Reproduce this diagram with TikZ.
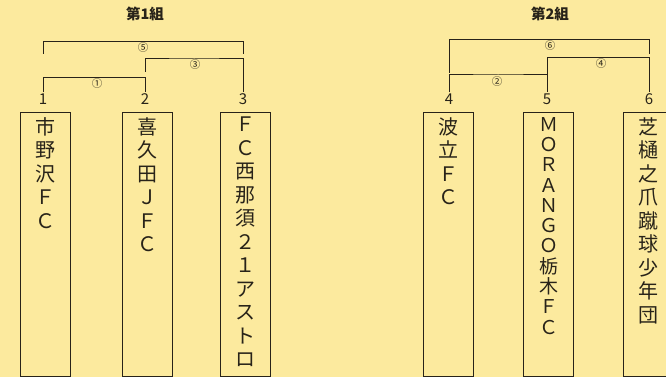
\documentclass[tikz,border=0pt]{standalone}
\usepackage{fontspec}
\setmainfont{Noto Sans CJK JP}
\definecolor{paper}{RGB}{252,234,158}
\definecolor{ink}{RGB}{40,35,25}

\begin{document}
\begin{tikzpicture}[x=1pt, y=-1pt,
            teambox/.style={rectangle, draw=ink, line width=1pt, minimum width=50pt, minimum height=264pt, anchor=north, inner sep=0pt},
            teamname/.style={anchor=north, align=center, text=ink, inner sep=0pt, yshift=-5pt, font=\fontsize{20}{23.5}\selectfont},
            seed/.style={text=ink, inner sep=1pt, font=\fontsize{15}{15}\selectfont},
            match/.style={text=ink, inner sep=0pt, font=\fontsize{10.5}{10.5}\selectfont},
            title/.style={text=ink, inner sep=0pt, font=\bfseries\fontsize{14.5}{14.5}\selectfont},
            bracket/.style={draw=ink, line width=1pt}
        ]

        % Hintergrund
        \fill[paper] (0,0) rectangle (666,377);
        \useasboundingbox (0,0) rectangle (666,377);

        % Gruppe 1
        \node[title] (title1) at (145,14) {第1組};
        \node[seed] (n1) at (43,99) {1};
        \node[seed] (n2) at (145,99) {2};
        \node[seed] (n3) at (243,99) {3};

        \node[teambox] (b1) at (45.5,112) {};
        \node[teambox] (b2) at (147,112) {};
        \node[teambox] (b3) at (245.5,112) {};
        \node[teamname] (t1) at (b1.north) {市\\野\\沢\\Ｆ\\Ｃ};
        \node[teamname] (t2) at (b2.north) {喜\\久\\田\\Ｊ\\Ｆ\\Ｃ};
        \node[teamname] (t3) at (b3.north) {Ｆ\\Ｃ\\西\\那\\須\\２\\１\\ア\\ス\\ト\\ロ};

        \coordinate (top1) at (94,77.7);
        \coordinate (top3) at (194,59);
        \coordinate (top5) at (143,41.7);
        \coordinate (w2) at (145,72);
        \coordinate (f1) at (43,54);
        \coordinate (f3) at (243,54);

        \draw[bracket] (n1.north) |- (top1) -| (n2.north);
        \draw[bracket] (w2) |- (top3) -| (n3.north);
        \draw[bracket] (f1) |- (top5) -| (f3);

        \node[match] (g1) at (97,83.5) {①};
        \node[match] (g3) at (195,64.5) {③};
        \node[match] (g5) at (143,47.5) {⑤};

        % Gruppe 2
        \node[title] (title2) at (550,14) {第2組};
        \node[seed] (n4) at (449,99) {4};
        \node[seed] (n5) at (547,99) {5};
        \node[seed] (n6) at (649,99) {6};

        \node[teambox] (b4) at (448.5,112) {};
        \node[teambox] (b5) at (548.5,112) {};
        \node[teambox] (b6) at (648,112) {};
        \node[teamname] (t4) at (b4.north) {波\\立\\Ｆ\\Ｃ};
        \node[teamname, font=\fontsize{19}{20.3}\selectfont] (t5) at (b5.north) {Ｍ\\Ｏ\\Ｒ\\Ａ\\Ｎ\\Ｇ\\Ｏ\\栃\\木\\Ｆ\\Ｃ};
        \node[teamname] (t6) at (b6.north) {芝\\樋\\之\\爪\\蹴\\球\\少\\年\\団};

        \coordinate (top2) at (498,75);
        \coordinate (top4) at (598,57.7);
        \coordinate (top6) at (549,39.3);
        \coordinate (w5) at (547,82);
        \coordinate (f4) at (449,73);
        \coordinate (f6) at (649,54);

        \draw[bracket] (n4.north) |- (top2) -| (n5.north);
        \draw[bracket] (w5) |- (top4) -| (n6.north);
        \draw[bracket] (f4) |- (top6) -| (f6);

        \node[match] (g2) at (497,81.5) {②};
        \node[match] (g4) at (601,63.5) {④};
        \node[match] (g6) at (550,45.5) {⑥};

    \end{tikzpicture}
\end{document}
